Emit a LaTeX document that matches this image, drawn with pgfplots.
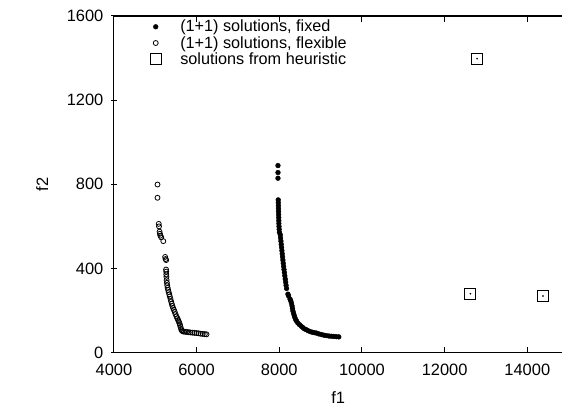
\documentclass[border=0pt]{standalone}
\usepackage{fontspec}
\setmainfont{Liberation Sans}
\usepackage{pgfplots}
\pgfplotsset{compat=1.18}

\begin{document}
\begin{tikzpicture}
\begin{axis}[
    scale only axis,
    width=449bp, height=337bp,
    xmin=4000, xmax=14850, ymin=0, ymax=1600,
    xtick={4000,6000,8000,10000,12000,14000},
    ytick={0,400,800,1200,1600},
    scaled x ticks=false,
    axis x line=box, axis y line=left,
    axis line style={-, line width=1.1pt},
    tick style={black, line width=1pt},
    major tick length=6bp,
    xlabel={f1}, ylabel={f2},
    font=\fontsize{16.5}{18}\selectfont,
    /pgf/number format/assume math mode=true,
    /pgf/number format/1000 sep={},
    xticklabel style={yshift=-8bp},
    yticklabel style={xshift=-4bp},
    xlabel style={yshift=-9bp},
    ylabel style={yshift=12bp},
    clip=false,
    legend style={draw=none, fill=none, at={(0.063,1.0)}, anchor=north west,
      font=\fontsize{16.3}{17}\selectfont, row sep=-1bp,
      cells={anchor=west}},
    legend cell align=left,
    mylegend/.style={legend image code/.code={\path (0cm,0cm) (1.15cm,0cm); \draw[##1] plot coordinates {(0.36cm,0cm)};}},
  ]
  \addplot[only marks, mark=*, mark size=2.4bp, black, mylegend] coordinates {
    (7969,889) (7969,856) (7969,829)
    (7975,726) (7977,712) (7979,698) (7981,684) (7983,670) (7985,656) (7987,642)
    (7989,628) (7991,614) (7994,600) (7998,586) (8003,572)
    (8025,560) (8032,545) (8040,530) (8048,515) (8056,500) (8064,485) (8072,470)
    (8080,455) (8088,440) (8097,425) (8106,410) (8115,395) (8125,380) (8135,365)
    (8145,350) (8155,335) (8165,320) (8178,305)
    (8210,278) (8225,270)
    (8260,255) (8280,245) (8295,235) (8310,222) (8320,210) (8330,198) (8345,188)
    (8360,178) (8375,168) (8395,158) (8420,150) (8450,141) (8490,133) (8530,126)
    (8570,119) (8610,113) (8655,109) (8700,104) (8750,100) (8800,97) (8850,95)
    (8900,93) (8960,89) (9020,86) (9080,83) (9140,81) (9200,79) (9260,78)
    (9320,77) (9380,76) (9440,75)
  };
  \addlegendentry{(1+1) solutions, fixed}
  \addplot[only marks, mark=o, mark size=2.5bp, black, mark options={line width=0.8pt}, mylegend] coordinates {
    (5055,799) (5055,736) (5085,612) (5092,600) (5105,575) (5112,565) (5125,556)
    (5145,548) (5195,530) (5240,455) (5250,445) (5265,440) (5262,395) (5265,385)
    (5268,372) (5270,360) (5275,345) (5282,332) (5290,320) (5300,308) (5312,298)
    (5325,288) (5340,277) (5353,267) (5370,255) (5385,243) (5400,232) (5415,222)
    (5430,213) (5450,204) (5470,194) (5490,183) (5514,172) (5535,163) (5555,155)
    (5570,148) (5585,140) (5600,131) (5612,122) (5625,113) (5640,106) (5660,102)
    (5690,100) (5730,99) (5770,98) (5810,97) (5850,96) (5900,95) (5950,94)
    (6000,93) (6050,92) (6100,90) (6150,89) (6200,88) (6240,87)
  };
  \addlegendentry{(1+1) solutions, flexible}
  \addplot[only marks, mark=square, mark size=5.5bp, black, mark options={line width=0.8pt}, mylegend] coordinates {
    (12785,1397) (12623,280) (14379,269)
  };
  \addlegendentry{solutions from heuristic}
  \addplot[only marks, mark=*, mark size=0.6bp, black, forget plot] coordinates {
    (12785,1397) (12623,280) (14379,269)
  };
\end{axis}
\path ([xshift=-114bp,yshift=-58bp]current axis.south west) rectangle ([yshift=16bp]current axis.north east);
\end{tikzpicture}
\end{document}
